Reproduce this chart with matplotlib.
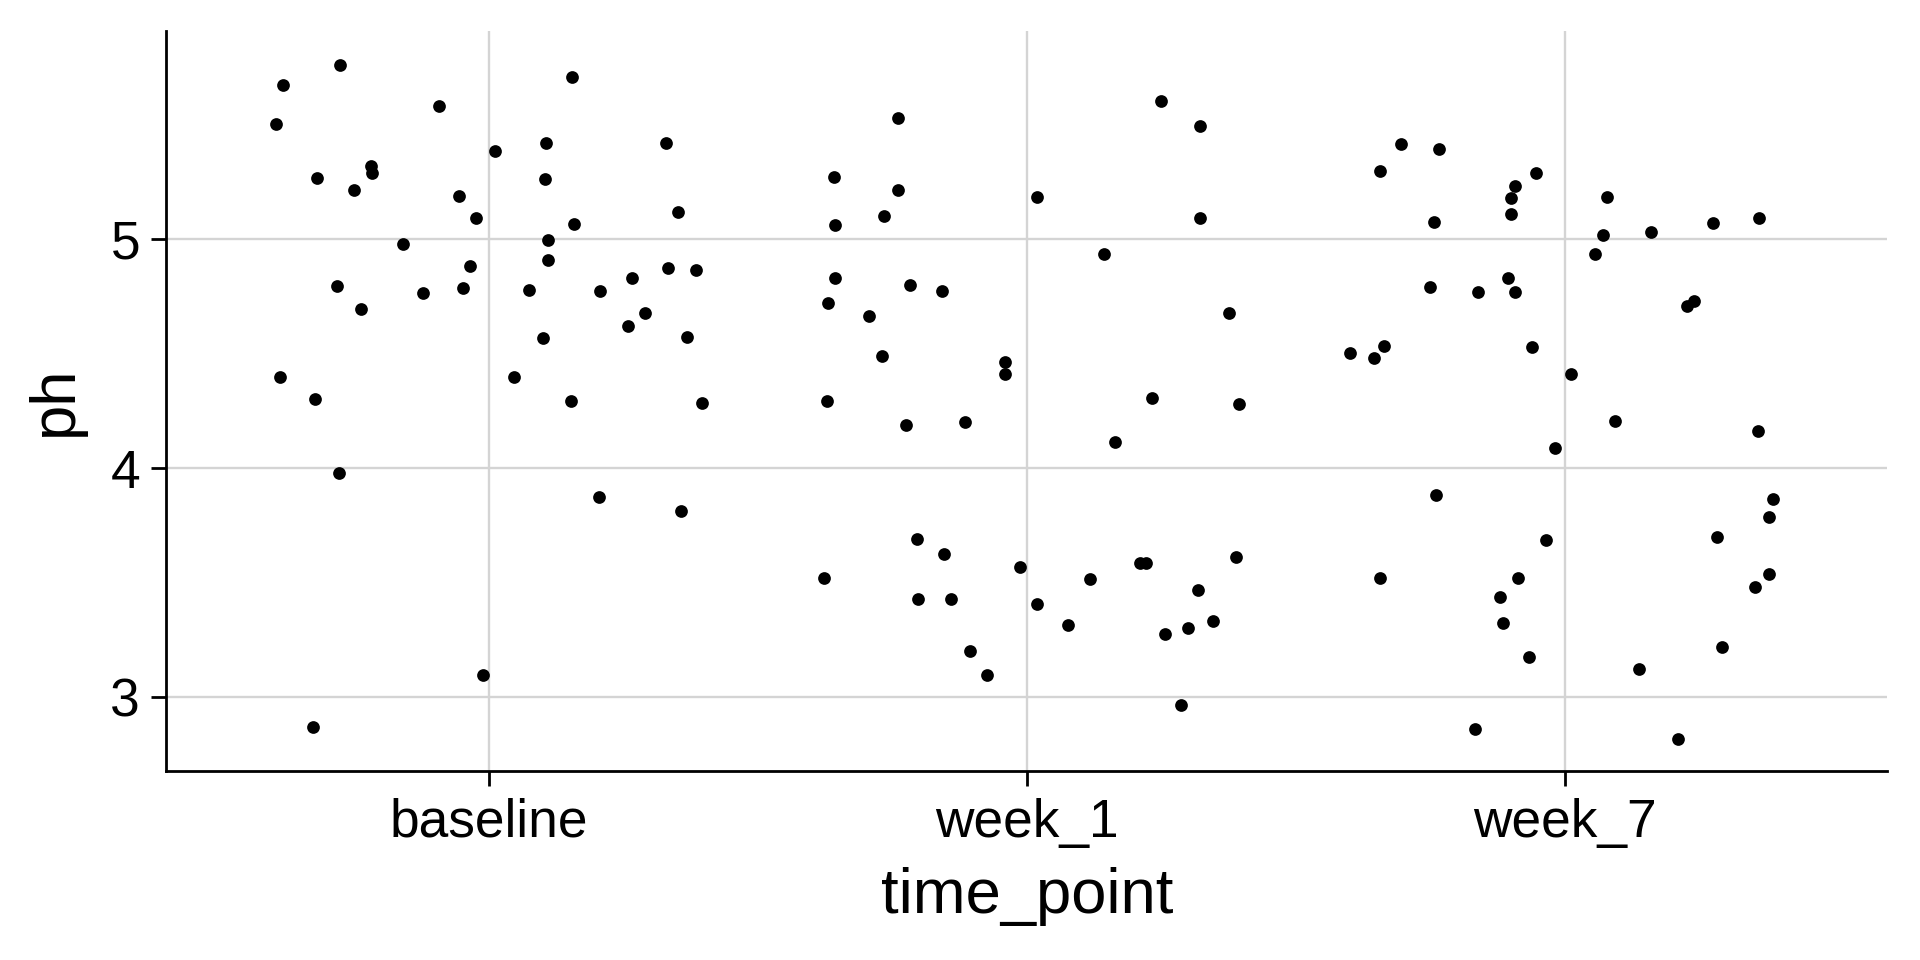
import matplotlib
matplotlib.use("Agg")
import matplotlib.pyplot as plt
import numpy as np

plt.rcParams['font.family'] = ['Liberation Sans', 'DejaVu Sans']

categories = ["baseline", "week_1", "week_7"]

# horizontal jitter (category units) and pH values
baseline_jitter = [-0.278, -0.384, -0.397, -0.093, 0.154, 0.011, 0.106, 0.328, 0.104, -0.220,
                   -0.218, -0.320, -0.252, -0.056, -0.025, 0.351, 0.157, 0.109, -0.161, 0.109,
                   -0.035, 0.333, 0.384, 0.265, -0.282, -0.123, -0.048, 0.075, 0.206, -0.239,
                   0.289, 0.258, 0.100, 0.368, -0.388, 0.047, -0.323, 0.152, 0.395, -0.280,
                   0.205, 0.356, -0.012, -0.328]
baseline_ph = [5.762, 5.676, 5.504, 5.584, 5.708, 5.388, 5.423, 5.421, 5.263, 5.321,
               5.292, 5.270, 5.216, 5.189, 5.094, 5.119, 5.069, 4.998, 4.980, 4.910,
               4.885, 4.875, 4.868, 4.829, 4.795, 4.767, 4.788, 4.780, 4.775, 4.696,
               4.679, 4.623, 4.568, 4.572, 4.400, 4.399, 4.300, 4.293, 4.284, 3.979,
               3.873, 3.813, 3.096, 2.870]

week1_jitter = [-0.240, 0.250, 0.321, -0.359, -0.240, -0.265, -0.356, 0.019, 0.322, 0.143,
                -0.356, -0.217, -0.157, -0.370, -0.293, 0.375, -0.270, -0.041, -0.040, -0.371,
                0.233, 0.395, -0.224, -0.116, 0.164, -0.205, -0.155, -0.012, -0.377, -0.203,
                -0.141, 0.019, 0.118, 0.076, 0.211, 0.222, 0.388, 0.319, 0.346, 0.299,
                0.257, -0.105, -0.074, 0.287]
week1_ph = [5.530, 5.604, 5.496, 5.272, 5.215, 5.104, 5.062, 5.186, 5.093, 4.937,
            4.832, 4.800, 4.773, 4.722, 4.664, 4.676, 4.488, 4.466, 4.413, 4.293,
            4.306, 4.282, 4.189, 4.201, 4.116, 3.689, 3.624, 3.569, 3.520, 3.427,
            3.428, 3.408, 3.516, 3.313, 3.586, 3.586, 3.613, 3.466, 3.333, 3.303,
            3.274, 3.201, 3.096, 2.965]

week7_jitter = [-0.305, -0.234, -0.343, -0.053, -0.092, -0.100, -0.099, -0.243, 0.078, 0.275,
                0.361, 0.161, 0.071, 0.057, -0.250, -0.161, -0.105, -0.092, 0.241, 0.228,
                -0.399, -0.354, -0.336, -0.061, 0.011, 0.094, 0.359, -0.018, -0.239, 0.388,
                0.380, 0.284, -0.034, -0.344, -0.087, -0.121, -0.115, 0.379, 0.353, 0.292,
                -0.066, 0.139, -0.166, 0.210]
week7_ph = [5.419, 5.396, 5.300, 5.288, 5.235, 5.180, 5.113, 5.077, 5.186, 5.071,
            5.093, 5.033, 5.017, 4.938, 4.792, 4.770, 4.832, 4.772, 4.731, 4.708,
            4.505, 4.482, 4.534, 4.530, 4.411, 4.206, 4.161, 4.088, 3.882, 3.865,
            3.787, 3.700, 3.686, 3.519, 3.519, 3.438, 3.323, 3.539, 3.481, 3.220,
            3.176, 3.122, 2.860, 2.817]

jitters = [baseline_jitter, week1_jitter, week7_jitter]
values = [baseline_ph, week1_ph, week7_ph]

fig = plt.figure(figsize=(9.6, 4.8), dpi=200)
ax = fig.add_axes([0.0867, 0.1964, 0.983 - 0.0867, 0.968 - 0.1964])

for i, (jit, val) in enumerate(zip(jitters, values)):
    x = i + np.asarray(jit)
    ax.scatter(x, val, s=21, color="black", linewidths=0, zorder=3)

ax.set_xticks(range(len(categories)))
ax.set_xticklabels(categories)
ax.set_yticks([3, 4, 5])
ax.set_xlim(-0.6, 2.6)
ax.set_ylim(2.674, 5.912)

ax.grid(True, color="#d4d4d4", linewidth=0.85, zorder=0)
ax.set_axisbelow(True)
for side in ["top", "right"]:
    ax.spines[side].set_visible(False)
for side in ["left", "bottom"]:
    ax.spines[side].set_linewidth(1.0)
    ax.spines[side].set_color("black")

ax.tick_params(axis="both", length=5.5, width=1.0, color="black",
               labelsize=19.2, labelcolor="black", pad=4)
ax.set_xlabel("time_point", fontsize=22.8, labelpad=7)
ax.set_ylabel("ph", fontsize=22.8, labelpad=9)

fig.savefig("out.png", dpi=200, facecolor="white")
